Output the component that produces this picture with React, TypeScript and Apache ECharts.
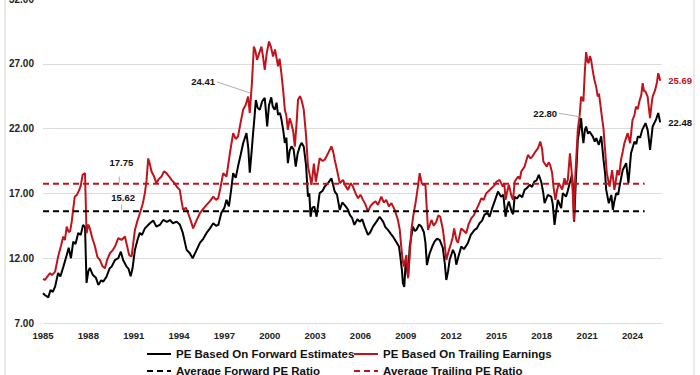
import React, { useEffect, useRef } from 'react';
import * as echarts from 'echarts';

// [decimal year, P/E]
const forwardPE: [number, number][] = [
  [1985.0, 9.3],[1985.12, 9.16],[1985.35, 8.98],[1985.5, 9.55],[1985.65, 9.4],[1985.8, 9.8],[1986.0, 10.86],[1986.15, 10.6],[1986.35, 11.35],[1986.57, 12.25],[1986.7, 12.8],[1986.85, 12.0],[1987.0, 13.28],[1987.15, 13.1],[1987.33, 13.95],[1987.5, 13.8],[1987.65, 14.57],[1987.78, 14.4],[1987.88, 10.09],[1988.0, 11.0],[1988.1, 11.25],[1988.3, 10.7],[1988.5, 10.5],[1988.66, 9.93],[1988.85, 10.3],[1988.98, 10.19],[1989.2, 10.57],[1989.4, 11.2],[1989.54, 11.35],[1989.76, 11.86],[1989.98, 12.0],[1990.15, 12.5],[1990.3, 11.86],[1990.53, 11.35],[1990.65, 11.2],[1990.8, 10.6],[1990.92, 11.2],[1991.08, 12.64],[1991.25, 13.4],[1991.4, 13.95],[1991.55, 13.8],[1991.74, 14.3],[1992.07, 14.7],[1992.3, 14.9],[1992.5, 14.44],[1992.75, 14.6],[1992.95, 14.95],[1993.2, 14.8],[1993.4, 14.95],[1993.6, 14.7],[1993.84, 14.82],[1994.05, 14.6],[1994.25, 13.95],[1994.5, 12.64],[1994.7, 12.4],[1994.9, 12.0],[1995.15, 12.6],[1995.38, 13.18],[1995.6, 13.5],[1995.82, 13.95],[1996.05, 14.3],[1996.26, 14.7],[1996.45, 14.5],[1996.6, 14.57],[1996.8, 15.5],[1997.0, 15.9],[1997.14, 16.5],[1997.3, 16.0],[1997.45, 17.3],[1997.58, 18.56],[1997.75, 18.2],[1997.9, 19.07],[1998.08, 20.0],[1998.24, 20.87],[1998.46, 21.65],[1998.58, 20.5],[1998.68, 18.6],[1998.8, 20.2],[1998.9, 21.65],[1999.0, 23.0],[1999.08, 24.2],[1999.2, 23.6],[1999.34, 23.45],[1999.5, 24.1],[1999.67, 24.37],[1999.75, 23.3],[1999.83, 22.16],[1999.95, 23.8],[2000.1, 24.41],[2000.2, 23.7],[2000.33, 23.45],[2000.45, 24.0],[2000.55, 23.06],[2000.68, 23.2],[2000.78, 22.68],[2000.9, 21.8],[2001.0, 20.9],[2001.1, 21.3],[2001.2, 19.33],[2001.32, 20.3],[2001.44, 20.63],[2001.58, 20.4],[2001.72, 19.07],[2001.85, 20.1],[2001.99, 20.63],[2002.12, 20.9],[2002.25, 20.6],[2002.4, 19.2],[2002.53, 16.75],[2002.62, 17.0],[2002.7, 15.2],[2002.82, 15.9],[2002.95, 15.98],[2003.1, 15.2],[2003.3, 17.02],[2003.5, 17.2],[2003.64, 17.53],[2003.86, 17.79],[2004.08, 18.17],[2004.3, 17.14],[2004.45, 16.9],[2004.63, 15.73],[2004.8, 16.3],[2004.96, 16.1],[2005.15, 15.8],[2005.3, 15.34],[2005.45, 15.1],[2005.6, 14.57],[2005.8, 15.0],[2005.95, 14.82],[2006.12, 15.0],[2006.28, 14.44],[2006.5, 13.8],[2006.65, 14.0],[2006.83, 14.44],[2007.05, 14.8],[2007.27, 15.2],[2007.5, 14.82],[2007.65, 14.4],[2007.82, 14.18],[2008.0, 13.9],[2008.15, 13.67],[2008.42, 13.15],[2008.55, 12.9],[2008.64, 12.12],[2008.75, 11.0],[2008.81, 10.07],[2008.9, 9.78],[2009.0, 11.86],[2009.08, 11.2],[2009.15, 10.57],[2009.26, 12.9],[2009.47, 14.44],[2009.6, 14.1],[2009.7, 14.18],[2009.88, 14.6],[2010.03, 14.44],[2010.2, 14.0],[2010.3, 13.2],[2010.4, 11.48],[2010.5, 12.0],[2010.58, 12.38],[2010.75, 12.9],[2010.9, 13.28],[2011.05, 13.5],[2011.24, 13.41],[2011.45, 12.8],[2011.58, 11.6],[2011.68, 10.32],[2011.8, 11.0],[2011.9, 11.86],[2012.12, 12.64],[2012.25, 12.3],[2012.34, 11.5],[2012.5, 12.2],[2012.67, 12.9],[2012.85, 12.7],[2013.1, 13.15],[2013.3, 13.8],[2013.55, 14.18],[2013.7, 14.3],[2013.88, 14.7],[2014.05, 14.9],[2014.2, 15.34],[2014.4, 15.5],[2014.54, 15.2],[2014.7, 15.8],[2014.87, 16.37],[2015.1, 17.14],[2015.3, 16.75],[2015.45, 16.9],[2015.6, 15.2],[2015.72, 16.0],[2015.82, 16.37],[2016.0, 15.6],[2016.1, 15.4],[2016.2, 16.75],[2016.35, 16.6],[2016.53, 16.88],[2016.7, 16.7],[2016.86, 17.27],[2017.0, 17.4],[2017.2, 17.66],[2017.35, 17.5],[2017.5, 17.9],[2017.65, 18.0],[2017.8, 18.43],[2017.96, 17.9],[2018.1, 17.0],[2018.18, 16.24],[2018.4, 16.88],[2018.62, 16.75],[2018.72, 16.2],[2018.84, 14.57],[2018.95, 15.6],[2019.06, 16.5],[2019.28, 15.86],[2019.39, 17.02],[2019.6, 16.75],[2019.72, 17.2],[2019.84, 17.79],[2020.0, 18.43],[2020.08, 17.0],[2020.14, 14.82],[2020.25, 18.0],[2020.38, 21.13],[2020.5, 22.0],[2020.6, 22.8],[2020.68, 21.6],[2020.75, 20.87],[2020.85, 21.9],[2020.93, 22.16],[2021.05, 21.6],[2021.15, 21.77],[2021.37, 21.4],[2021.5, 21.0],[2021.6, 21.26],[2021.77, 20.75],[2021.93, 21.4],[2022.08, 19.6],[2022.18, 18.6],[2022.26, 17.27],[2022.43, 16.24],[2022.6, 16.88],[2022.7, 15.73],[2022.8, 16.4],[2022.92, 17.02],[2023.05, 16.9],[2023.14, 17.53],[2023.35, 18.8],[2023.58, 19.33],[2023.73, 17.79],[2023.9, 20.1],[2024.13, 21.0],[2024.25, 20.8],[2024.35, 21.4],[2024.5, 21.3],[2024.64, 21.9],[2024.86, 22.42],[2025.0, 21.9],[2025.1, 21.0],[2025.16, 20.36],[2025.25, 21.3],[2025.33, 22.16],[2025.55, 22.68],[2025.7, 23.2],[2025.83, 22.48],
];

const trailingPE: [number, number][] = [
  [1985.0, 10.4],[1985.13, 10.32],[1985.3, 10.6],[1985.46, 10.84],[1985.6, 10.7],[1985.8, 10.96],[1986.0, 12.12],[1986.2, 13.0],[1986.34, 13.67],[1986.45, 13.4],[1986.57, 14.44],[1986.7, 14.0],[1986.8, 14.1],[1986.9, 14.82],[1987.0, 15.8],[1987.1, 16.75],[1987.25, 16.9],[1987.4, 17.27],[1987.5, 17.6],[1987.62, 18.43],[1987.78, 18.56],[1987.88, 13.92],[1988.0, 14.6],[1988.1, 14.3],[1988.25, 13.6],[1988.44, 12.9],[1988.6, 12.1],[1988.77, 11.86],[1988.92, 11.4],[1989.1, 11.22],[1989.25, 11.9],[1989.43, 12.38],[1989.6, 12.6],[1989.76, 12.9],[1989.98, 13.54],[1990.2, 13.41],[1990.42, 13.67],[1990.55, 13.0],[1990.7, 12.25],[1990.86, 12.12],[1991.08, 14.18],[1991.25, 14.9],[1991.41, 15.47],[1991.6, 16.2],[1991.74, 17.02],[1991.85, 18.0],[1991.96, 19.7],[1992.08, 19.2],[1992.18, 18.69],[1992.35, 18.3],[1992.5, 17.79],[1992.65, 18.1],[1992.84, 18.3],[1993.0, 18.7],[1993.17, 18.56],[1993.35, 18.3],[1993.5, 18.04],[1993.7, 17.8],[1993.84, 17.53],[1994.05, 17.27],[1994.15, 16.5],[1994.27, 15.73],[1994.45, 15.9],[1994.6, 15.47],[1994.8, 14.8],[1994.93, 14.3],[1995.15, 14.9],[1995.38, 15.47],[1995.6, 15.8],[1995.82, 16.11],[1996.05, 16.4],[1996.26, 16.75],[1996.45, 16.5],[1996.59, 16.63],[1996.75, 17.5],[1996.92, 18.56],[1997.14, 18.3],[1997.35, 20.0],[1997.58, 21.65],[1997.75, 21.2],[1997.9, 21.39],[1998.08, 22.5],[1998.24, 23.45],[1998.4, 23.8],[1998.57, 24.47],[1998.68, 23.2],[1998.82, 25.5],[1998.95, 28.33],[1999.05, 28.0],[1999.16, 27.3],[1999.3, 27.8],[1999.45, 28.33],[1999.55, 27.6],[1999.67, 26.54],[1999.8, 27.8],[1999.95, 28.72],[2000.08, 28.3],[2000.22, 27.56],[2000.35, 28.1],[2000.55, 26.8],[2000.65, 27.4],[2000.77, 26.27],[2000.9, 24.8],[2001.0, 23.45],[2001.1, 23.0],[2001.2, 21.9],[2001.32, 22.8],[2001.43, 22.4],[2001.55, 21.8],[2001.66, 20.6],[2001.78, 22.5],[2001.87, 24.22],[2002.0, 24.5],[2002.1, 24.22],[2002.25, 23.45],[2002.4, 21.5],[2002.53, 19.07],[2002.65, 18.4],[2002.76, 17.66],[2002.92, 19.3],[2003.05, 17.9],[2003.18, 18.8],[2003.3, 19.72],[2003.5, 19.5],[2003.64, 19.6],[2003.86, 20.1],[2004.08, 20.63],[2004.2, 20.2],[2004.3, 19.6],[2004.45, 18.8],[2004.63, 17.79],[2004.85, 18.04],[2005.0, 17.6],[2005.18, 17.27],[2005.35, 17.8],[2005.5, 17.53],[2005.68, 17.0],[2005.84, 16.63],[2006.0, 16.9],[2006.17, 16.5],[2006.35, 16.1],[2006.5, 15.6],[2006.65, 16.0],[2006.83, 16.24],[2007.0, 16.4],[2007.16, 16.11],[2007.38, 16.75],[2007.55, 16.3],[2007.71, 16.5],[2007.88, 16.0],[2008.05, 16.24],[2008.27, 15.73],[2008.48, 14.95],[2008.6, 14.2],[2008.7, 12.9],[2008.8, 11.8],[2008.88, 11.35],[2009.04, 12.25],[2009.15, 10.45],[2009.25, 12.0],[2009.37, 14.18],[2009.5, 15.3],[2009.66, 16.37],[2009.8, 17.5],[2009.92, 18.56],[2010.05, 17.8],[2010.14, 17.66],[2010.3, 17.66],[2010.4, 15.6],[2010.47, 14.18],[2010.6, 14.6],[2010.7, 14.95],[2010.85, 14.5],[2011.02, 14.82],[2011.15, 15.3],[2011.28, 15.2],[2011.46, 14.18],[2011.58, 13.0],[2011.68, 11.86],[2011.85, 12.6],[2012.0, 13.15],[2012.1, 13.6],[2012.2, 14.3],[2012.35, 13.4],[2012.45, 13.2],[2012.67, 14.3],[2012.85, 14.1],[2013.0, 13.93],[2013.15, 14.6],[2013.33, 15.08],[2013.5, 15.3],[2013.66, 15.73],[2013.85, 16.2],[2014.0, 16.63],[2014.15, 16.5],[2014.33, 17.02],[2014.5, 17.2],[2014.66, 17.4],[2014.85, 17.6],[2015.0, 17.9],[2015.2, 18.04],[2015.42, 17.53],[2015.52, 17.8],[2015.6, 16.5],[2015.72, 17.2],[2015.82, 17.66],[2016.0, 16.75],[2016.1, 16.5],[2016.2, 17.9],[2016.43, 18.3],[2016.55, 18.1],[2016.64, 18.69],[2016.86, 19.07],[2017.08, 19.97],[2017.25, 19.7],[2017.37, 19.84],[2017.58, 20.23],[2017.75, 20.5],[2017.9, 21.0],[2018.02, 20.4],[2018.1, 19.46],[2018.33, 19.07],[2018.45, 19.4],[2018.55, 19.2],[2018.68, 18.6],[2018.77, 17.53],[2018.9, 16.5],[2019.0, 17.2],[2019.12, 17.79],[2019.35, 17.3],[2019.5, 18.17],[2019.6, 17.7],[2019.72, 18.04],[2019.86, 20.1],[2019.97, 18.7],[2020.05, 17.0],[2020.12, 14.9],[2020.22, 18.5],[2020.38, 21.9],[2020.5, 23.0],[2020.6, 24.47],[2020.75, 24.1],[2020.85, 26.5],[2020.93, 27.9],[2021.02, 27.2],[2021.1, 27.05],[2021.18, 27.6],[2021.26, 27.3],[2021.38, 26.4],[2021.48, 25.76],[2021.6, 25.2],[2021.7, 24.47],[2021.78, 24.7],[2021.86, 23.96],[2022.0, 22.68],[2022.08, 22.0],[2022.15, 20.87],[2022.3, 18.56],[2022.48, 17.53],[2022.65, 18.8],[2022.8, 17.27],[2022.9, 18.0],[2023.0, 18.8],[2023.12, 18.4],[2023.24, 19.6],[2023.35, 20.2],[2023.46, 20.87],[2023.58, 21.3],[2023.68, 21.65],[2023.84, 20.87],[2024.0, 22.68],[2024.12, 23.0],[2024.23, 23.7],[2024.35, 23.5],[2024.45, 24.09],[2024.58, 24.6],[2024.67, 25.5],[2024.76, 24.9],[2024.86, 24.86],[2025.0, 24.47],[2025.08, 23.6],[2025.16, 22.8],[2025.25, 23.8],[2025.33, 24.47],[2025.5, 24.99],[2025.62, 25.6],[2025.7, 26.27],[2025.77, 26.0],[2025.83, 25.69],
];

const averageForward = 15.62;
const averageTrailing = 17.75;
const averageSpan = [1985, 2024.8];

const yMin = 7;
const yMax = 32;
const yStep = 5;
const xMin = 1985;
const xMax = 2025.95;
const xStep = 3;

const seriesNames = [
  'PE Based On Forward Estimates',
  'PE Based On Trailing Earnings',
  'Average Forward PE Ratio',
  'Average Trailing PE Ratio',
];

const callouts = [
  { text: '24.41', year: 1998.7, value: 24.75, dx: -33, dy: -11 },
  { text: '22.80', year: 2020.6, value: 22.9, dx: -22, dy: -3.5 },
];
const averageLabels = [
  { text: averageTrailing.toFixed(2), year: 1990.05, value: averageTrailing, tx: 2, ty: -21, l0: -7, l1: -1 },
  { text: averageForward.toFixed(2), year: 1990.2, value: averageForward, tx: 1.5, ty: -14, l0: -7, l1: -1 },
];

const FONT = '"Liberation Sans", Arial, sans-serif';
const BLACK = '#000000';
const RED = '#c0141c';

export default function App() {
  const ref = useRef<HTMLDivElement>(null);
  useEffect(() => {
    const chart = echarts.init(ref.current!, null, { renderer: 'svg' });
    const legendText = { fontSize: 11.5, fontWeight: 'bold', color: '#111', fontFamily: FONT };
    const legendBase = {
      orient: 'vertical', top: 348, height: 60, itemWidth: 24, itemHeight: 10, itemGap: 5,
      textStyle: legendText, itemStyle: { opacity: 0 }, padding: 0,
    };
    chart.setOption({
      animation: false,
      backgroundColor: '#ffffff',
      textStyle: { fontFamily: FONT },
      grid: { left: 43, right: 38, top: -1, bottom: 52, containLabel: false, outerBoundsMode: 'none' },
      legend: [
        { ...legendBase, data: [seriesNames[0], seriesNames[2]], left: 146 },
        { ...legendBase, data: [seriesNames[1], seriesNames[3]], left: 353 },
      ],
      xAxis: {
        type: 'value', min: xMin, max: xMax, interval: xStep,
        axisLine: { show: false }, axisTick: { show: false }, splitLine: { show: false },
        axisLabel: {
          margin: 7, fontSize: 9.5, fontWeight: 'bold', color: '#222', fontFamily: FONT,
          formatter: (v: number) => (Number.isInteger(v) && (v - xMin) % xStep === 0 ? String(v) : ''),
        },
      },
      yAxis: {
        type: 'value', min: yMin, max: yMax, interval: yStep,
        axisLine: { show: false }, axisTick: { show: false },
        splitLine: { show: true, lineStyle: { color: '#dcdcdc', width: 1 } },
        axisLabel: {
          margin: 9, fontSize: 10, fontWeight: 'bold', color: '#222', fontFamily: FONT,
          formatter: (v: number) => v.toFixed(2),
        },
      },
      series: [
        {
          name: seriesNames[0], type: 'line', data: forwardPE, showSymbol: false, symbol: 'none',
          color: BLACK, lineStyle: { color: BLACK, width: 2 }, z: 3,
          endLabel: {
            show: true, distance: 8, color: '#111', fontSize: 9.5, fontWeight: 'bold', fontFamily: FONT,
            formatter: (p: any) => Number(p.value[1]).toFixed(2),
          },
        },
        {
          name: seriesNames[1], type: 'line', data: trailingPE, showSymbol: false, symbol: 'none',
          color: RED, lineStyle: { color: RED, width: 2 }, z: 4,
          endLabel: {
            show: true, distance: 8, color: RED, fontSize: 9.5, fontWeight: 'bold', fontFamily: FONT,
            formatter: (p: any) => Number(p.value[1]).toFixed(2),
          },
        },
        {
          name: seriesNames[2], type: 'line', showSymbol: false, symbol: 'none',
          data: averageSpan.map((y) => [y, averageForward]),
          color: BLACK, lineStyle: { color: BLACK, width: 2, type: [6, 4] }, z: 5,
        },
        {
          name: seriesNames[3], type: 'line', showSymbol: false, symbol: 'none',
          data: averageSpan.map((y) => [y, averageTrailing]),
          color: RED, lineStyle: { color: RED, width: 2, type: [6, 4] }, z: 5,
        },
      ],
    });

    const px = (x: number, y: number) => chart.convertToPixel({ gridIndex: 0 }, [x, y]) as number[];
    const graphics: any[] = [
      { type: 'rect', shape: { x: 5, y: -5, width: 689, height: 390 }, style: { fill: 'none', stroke: '#d6d6d6', lineWidth: 1 }, silent: true, z: 0 },
    ];
    callouts.forEach((c) => {
      const [ax, ay] = px(c.year, c.value);
      graphics.push({ type: 'line', shape: { x1: ax, y1: ay, x2: ax + c.dx, y2: ay + c.dy }, style: { stroke: '#9a9a9a', lineWidth: 0.8 }, z: 10 });
      graphics.push({
        type: 'text', x: ax + c.dx - 2, y: ay + c.dy,
        style: { text: c.text, fill: '#111', font: `bold 9.5px ${FONT}`, textAlign: 'right', textVerticalAlign: 'middle' }, z: 10,
      });
    });
    averageLabels.forEach((a) => {
      const [ax, ay] = px(a.year, a.value);
      graphics.push({ type: 'line', shape: { x1: ax, y1: ay + a.l0, x2: ax, y2: ay + a.l1 }, style: { stroke: '#9a9a9a', lineWidth: 0.8 }, z: 10 });
      graphics.push({
        type: 'text', x: ax + a.tx, y: ay + a.ty,
        style: { text: a.text, fill: '#111', font: `bold 9.5px ${FONT}`, textAlign: 'center', textVerticalAlign: 'middle' }, z: 10,
      });
    });
    chart.setOption({ graphic: graphics });
    return () => chart.dispose();
  }, []);
  return <div ref={ref} style={{ position: 'fixed', left: 0, top: 0, width: 700, height: 375 }} />;
}
